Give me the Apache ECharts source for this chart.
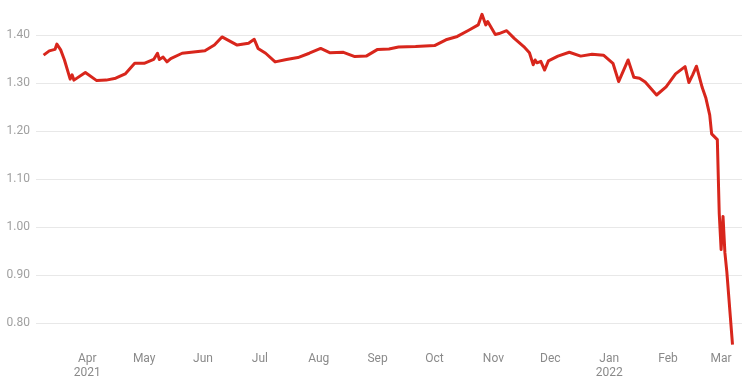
<!DOCTYPE html>
<html>
<head>
<meta charset="utf-8">
<script src="https://cdn.jsdelivr.net/npm/echarts@6/dist/echarts.min.js"></script>
<style>
  html, body { margin: 0; padding: 0; background: #ffffff; }
  #chart { width: 754px; height: 386px; }
</style>
</head>
<body>
<div id="chart"></div>
<script>
// ---- data ----
const dates = [
  '2021-03-09','2021-03-12','2021-03-15','2021-03-16','2021-03-18','2021-03-20','2021-03-23','2021-03-24','2021-03-25','2021-03-31',
  '2021-04-06','2021-04-11','2021-04-16','2021-04-21','2021-04-26','2021-05-01','2021-05-06','2021-05-08','2021-05-09','2021-05-11',
  '2021-05-13','2021-05-15','2021-05-21','2021-06-02','2021-06-07','2021-06-11','2021-06-19','2021-06-25','2021-06-28','2021-06-30',
  '2021-07-04','2021-07-09','2021-07-15','2021-07-21','2021-07-27','2021-08-02','2021-08-07','2021-08-14','2021-08-20','2021-08-26',
  '2021-09-01','2021-09-07','2021-09-12','2021-09-21','2021-10-01','2021-10-07','2021-10-13','2021-10-19','2021-10-24','2021-10-26',
  '2021-10-28','2021-10-29','2021-10-30','2021-11-02','2021-11-04','2021-11-08','2021-11-12','2021-11-17','2021-11-20','2021-11-22',
  '2021-11-23','2021-11-24','2021-11-26','2021-11-28','2021-11-30','2021-12-05','2021-12-11','2021-12-17','2021-12-23','2021-12-29',
  '2022-01-03','2022-01-06','2022-01-11','2022-01-14','2022-01-17','2022-01-20','2022-01-26','2022-01-31','2022-02-05','2022-02-10',
  '2022-02-12','2022-02-14','2022-02-16','2022-02-19','2022-02-21','2022-02-23','2022-02-24','2022-02-27','2022-02-28','2022-03-01',
  '2022-03-02','2022-03-03','2022-03-04','2022-03-07'
];
const values = [
  1.358,1.367,1.370,1.381,1.369,1.348,1.308,1.317,1.306,1.322,
  1.305,1.306,1.310,1.319,1.341,1.341,1.349,1.362,1.349,1.354,
  1.344,1.351,1.362,1.367,1.379,1.396,1.379,1.383,1.391,1.372,
  1.362,1.344,1.349,1.353,1.362,1.372,1.363,1.364,1.355,1.356,
  1.370,1.371,1.375,1.376,1.378,1.390,1.397,1.410,1.421,1.443,
  1.421,1.428,1.424,1.401,1.403,1.409,1.393,1.376,1.363,1.338,
  1.348,1.342,1.345,1.327,1.346,1.356,1.364,1.356,1.360,1.358,
  1.341,1.303,1.348,1.312,1.310,1.302,1.275,1.292,1.319,1.334,
  1.301,1.317,1.335,1.291,1.268,1.233,1.194,1.182,1.029,0.953,
  1.022,0.946,0.907,0.755
];
const monthNames = ['Jan','Feb','Mar','Apr','May','Jun','Jul','Aug','Sep','Oct','Nov','Dec'];
const yearLabelMonths = ['2021-04','2022-01'];
const xMin = '2021-03-05';
const xMax = '2022-03-12';
const yMin = 0.75;
const yMax = 1.45;

const DAY = 86400000;
const chart = echarts.init(document.getElementById('chart'), null, { renderer: 'canvas' });
chart.setOption({
  animation: false,
  backgroundColor: '#ffffff',
  grid: { left: 36, right: 12, top: 11, bottom: 39, containLabel: false },
  xAxis: {
    type: 'time',
    min: xMin,
    max: xMax,
    minInterval: 28 * DAY,
    maxInterval: 31 * DAY,
    axisLine: { show: false },
    axisTick: { show: false },
    splitLine: { show: false },
    axisLabel: {
      color: '#8a8a8a',
      fontSize: 12,
      fontFamily: 'Roboto',
      lineHeight: 14,
      margin: 5,
      hideOverlap: false,
      formatter: function (val) {
        const d = new Date(val);
        const key = d.getFullYear() + '-' + String(d.getMonth() + 1).padStart(2, '0');
        const m = monthNames[d.getMonth()];
        return yearLabelMonths.indexOf(key) >= 0 ? m + '\n' + d.getFullYear() : m;
      }
    }
  },
  yAxis: {
    type: 'value',
    min: yMin,
    max: yMax,
    axisLine: { show: false },
    axisTick: { show: false },
    axisLabel: {
      color: '#a0a0a0',
      fontSize: 12,
      fontFamily: 'Roboto',
      margin: 6,
      showMinLabel: false,
      showMaxLabel: false,
      formatter: function (v) { return v.toFixed(2); }
    },
    splitLine: { show: true, showMinLine: false, showMaxLine: false, lineStyle: { color: '#e8e8e8', width: 1 } }
  },
  series: [{
    type: 'line',
    data: dates.map((d, i) => [d, values[i]]),
    showSymbol: false,
    symbol: 'none',
    lineStyle: { color: '#d8261c', width: 3, join: 'round' },
    itemStyle: { color: '#d8261c' }
  }]
});
</script>
</body>
</html>
